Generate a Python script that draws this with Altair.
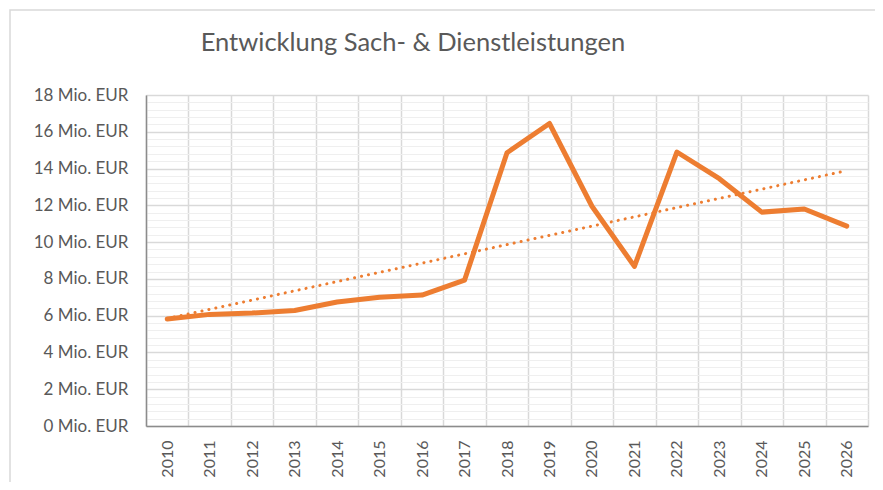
import altair as alt
import pandas as pd

# --- data ---
years = list(range(2010, 2027))
values = [5.82, 6.07, 6.14, 6.28, 6.74, 7.0, 7.12, 7.93, 14.86, 16.45,
          11.95, 8.68, 14.9, 13.45, 11.63, 11.8, 10.87]
y_major = list(range(0, 19, 2))
y_minor = [round(k * 0.4, 1) for k in range(46) if k % 5]
x_bounds = [y - 0.5 for y in years] + [years[-1] + 0.5]

title_text = "Entwicklung Sach- & Dienstleistungen"
orange = "#ED7D31"
FONT = "Lato"

df = pd.DataFrame({"Jahr": years, "Wert": values})
base = alt.Chart(df)

xscale = alt.Scale(domain=[2009.5, 2026.5], nice=False, zero=False)
yscale = alt.Scale(domain=[0, 18], nice=False, zero=True)

trend = base.transform_regression("Jahr", "Wert", method="linear").mark_line(
    color=orange, strokeWidth=3, strokeDash=[0.1, 7], strokeCap="round"
).encode(
    x=alt.X("Jahr:Q", scale=xscale,
            axis=alt.Axis(orient="top", values=x_bounds, grid=True, gridColor="#d9d9d9",
                          gridWidth=1.5, labels=False, ticks=False, domain=False, title=None)),
    y=alt.Y("Wert:Q", scale=yscale,
            axis=alt.Axis(orient="right", values=y_minor, grid=True, gridColor="#efefef",
                          gridWidth=1, labels=False, ticks=False, domain=False, title=None)),
)

line = base.mark_line(
    color=orange, strokeWidth=5, strokeCap="round", strokeJoin="round"
).encode(
    x=alt.X("Jahr:Q", scale=xscale,
            axis=alt.Axis(values=years, format="d", labelAngle=-90, grid=False, ticks=False,
                          domainColor="#8c8c8c", domainWidth=1.5, labelFont=FONT,
                          labelFontSize=16, labelColor="#595959", labelPadding=14,
                          labelAlign="right", labelBaseline="middle", title=None)),
    y=alt.Y("Wert:Q", scale=yscale,
            axis=alt.Axis(values=y_major, labelExpr="datum.value + ' Mio. EUR'",
                          grid=True, gridColor="#d9d9d9", gridWidth=1.5, ticks=False,
                          domainColor="#8c8c8c", domainWidth=1.5, labelFont=FONT,
                          labelFontSize=17, labelColor="#595959", labelPadding=18,
                          title=None)),
)

border = alt.Chart(alt.Data(values=[{}])).mark_rect(
    fill=None, stroke="#d9d9d9", strokeWidth=1.5
).encode(
    x=alt.value(-136), x2=alt.value(800), y=alt.value(-85), y2=alt.value(500)
)

chart = alt.layer(border, trend, line).resolve_axis(
    x="independent", y="independent"
).properties(
    width=722, height=331,
    autosize=alt.AutoSizeParams(type="none"),
    padding={"left": 138, "top": 87, "right": 7, "bottom": 56},
    title=alt.TitleParams(title_text, font=FONT, fontSize=25.5, fontWeight="normal",
                          color="#595959", anchor="middle", frame="group",
                          dx=-94, offset=-47),
).configure_view(stroke=None)

chart.save("out.html", embed_options={"renderer": "svg", "actions": False})
